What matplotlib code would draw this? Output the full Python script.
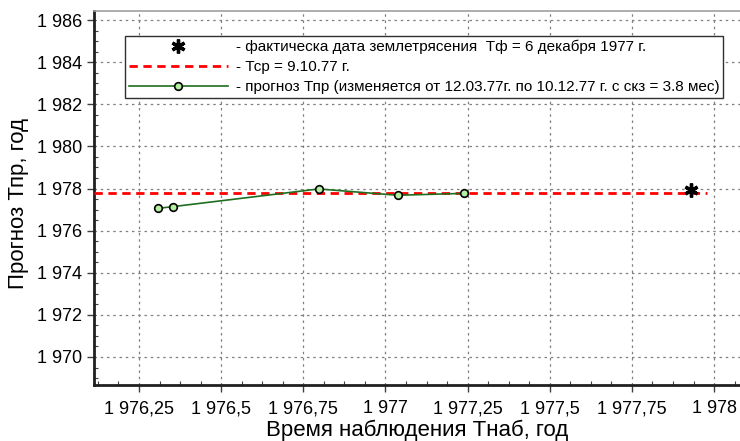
import matplotlib
matplotlib.use("Agg")
import matplotlib.pyplot as plt
from matplotlib.ticker import FuncFormatter, MultipleLocator, AutoMinorLocator

plt.rcParams['font.family'] = ['Liberation Sans', 'DejaVu Sans']

# Data
forecast_x = [1976.309, 1976.353, 1976.797, 1977.037, 1977.240]
forecast_y = [1977.06, 1977.14, 1977.98, 1977.68, 1977.77]
actual_x = [1977.93]
actual_y = [1977.93]
tcp_x = [1976.113, 1977.98]
tcp_y = [1977.77, 1977.77]

label_actual = "- фактическа дата землетрясения  Тф = 6 декабря 1977 г."
label_tcp = "- Тср = 9.10.77 г."
label_fc = "- прогноз Тпр (изменяется от 12.03.77г. по 10.12.77 г. с скз = 3.8 мес)"
xlabel = "Время наблюдения Тнаб, год"
ylabel = "Прогноз Тпр, год"

fig = plt.figure(figsize=(7.40, 4.41), dpi=100)
ax = fig.add_axes([94/740, 1-385/441, 1-94/740, (385-11)/441])

ax.plot(actual_x, actual_y, linestyle='none', marker=(6, 2, 0), markersize=10,
        mew=2.4, color='black', label=label_actual, zorder=5)
ax.plot(tcp_x, tcp_y, color='#ff0000', linestyle=(0, (3, 2)), linewidth=2,
        label=label_tcp, zorder=3)
ax.plot(forecast_x, forecast_y, color='#1e6e1e', linewidth=1.2, marker='o',
        markersize=5.5, markerfacecolor='#b4f0a0', markeredgecolor='black',
        markeredgewidth=1.2, label=label_fc, zorder=4)

ax.set_xlim(1976.113, 1978.079)
ax.set_ylim(1968.67, 1986.43)

ax.xaxis.set_major_locator(MultipleLocator(0.25))
ax.xaxis.set_minor_locator(AutoMinorLocator(4))
ax.yaxis.set_major_locator(MultipleLocator(2))
ax.yaxis.set_minor_locator(AutoMinorLocator(4))

def fmt(v, pos):
    s = f"{v:.2f}".rstrip('0').rstrip('.')
    ip, _, dp = s.partition('.')
    ip = ip[:-3] + ' ' + ip[-3:]
    return ip + (',' + dp if dp else '')

ax.xaxis.set_major_formatter(FuncFormatter(fmt))
ax.yaxis.set_major_formatter(FuncFormatter(fmt))

ax.grid(True, which='major', color='#808080', linestyle=(0, (2, 3)), linewidth=0.9)
ax.tick_params(which='major', direction='out', length=5, width=1, labelsize=13, colors='#404040', labelcolor='black')
ax.tick_params(which='minor', direction='in', length=3, width=0.8, colors='#404040')
ax.tick_params(axis='x', pad=6)

for s in ['left', 'bottom']:
    ax.spines[s].set_linewidth(2)
    ax.spines[s].set_color('#202020')
ax.spines['top'].set_color('#a0a0a0')
ax.spines['top'].set_linewidth(1.2)
ax.spines['right'].set_visible(False)

ax.set_xlabel(xlabel, fontsize=16, labelpad=2)
ax.set_ylabel(ylabel, fontsize=16, labelpad=8)
ax.yaxis.set_label_coords(-0.1, 0.485)

leg = ax.legend(loc='upper left', bbox_to_anchor=((125-94)/646, 1-(36-11)/374),
                fontsize=11, frameon=True, fancybox=False, handlelength=6.5,
                borderpad=0.25, labelspacing=0.38, handletextpad=0.5, borderaxespad=0)
leg.get_frame().set_edgecolor('#303030')
leg.get_frame().set_linewidth(1.0)
leg.get_frame().set_alpha(1)

fig.savefig("out.png", dpi=100)
